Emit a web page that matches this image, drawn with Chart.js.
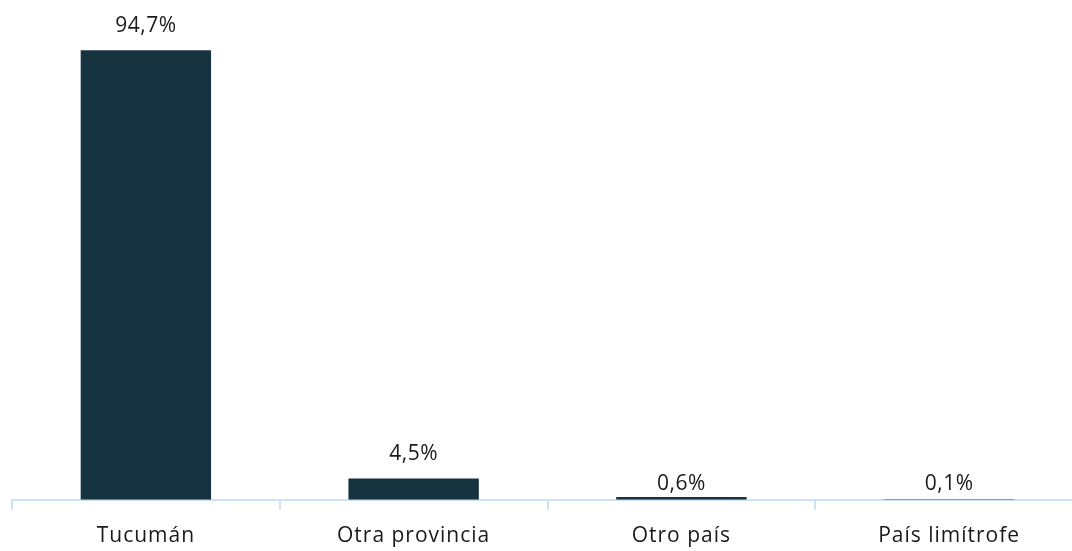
<!DOCTYPE html>
<html>
<head>
<meta charset="utf-8">
<script src="https://cdn.jsdelivr.net/npm/chart.js@4"></script>
<style>
  html, body { margin: 0; padding: 0; background: #fff; overflow: hidden; }
  #wrap { position: relative; width: 1084px; height: 551px; }
</style>
</head>
<body>
<div id="wrap"><canvas id="chart"></canvas></div>
<script>
var categories = ['Tucumán', 'Otra provincia', 'Otro país', 'País limítrofe'];
var shares = [94.7, 4.5, 0.6, 0.1];
var shareLabels = ['94,7%', '4,5%', '0,6%', '0,1%'];

// wider letters, like the original
var spacing = {
  id: 'spacing',
  beforeDraw: function(chart){ chart.ctx.letterSpacing = '1px'; }
};

// draws the value above every bar
var valueLabels = {
  id: 'valueLabels',
  afterDatasetsDraw: function(chart){
    var ctx = chart.ctx;
    var meta = chart.getDatasetMeta(0);
    var base = chart.chartArea.bottom;
    ctx.save();
    ctx.letterSpacing = '0.5px';
    ctx.font = '21px "Open Sans"';
    ctx.fillStyle = '#1a1a1a';
    ctx.textAlign = 'center';
    ctx.textBaseline = 'middle';
    meta.data.forEach(function(bar, i){
      var y = base - bar.y < 10 ? base - 16 : bar.y - 24;
      ctx.fillText(shareLabels[i], bar.x, y);
    });
    ctx.restore();
  }
};

new Chart(document.getElementById('chart'), {
  type: 'bar',
  data: {
    labels: categories,
    datasets: [{
      data: shares,
      backgroundColor: '#163340',
      categoryPercentage: 1,
      barPercentage: 0.487
    }]
  },
  options: {
    responsive: true,
    maintainAspectRatio: false,
    animation: false,
    layout: { padding: { left: 12, right: 1, top: 25, bottom: -12 } },
    plugins: { legend: { display: false }, tooltip: { enabled: false } },
    scales: {
      x: {
        grid: { drawOnChartArea: false, drawTicks: true, tickLength: 10, color: '#cde3ef', lineWidth: 2 },
        border: { color: '#cde3ef', width: 2 },
        ticks: { color: '#1a1a1a', font: { family: '"Open Sans"', size: 21 }, padding: 14 }
      },
      y: { display: false, min: 0, max: 100 }
    }
  },
  plugins: [spacing, valueLabels]
});
</script>
</body>
</html>
